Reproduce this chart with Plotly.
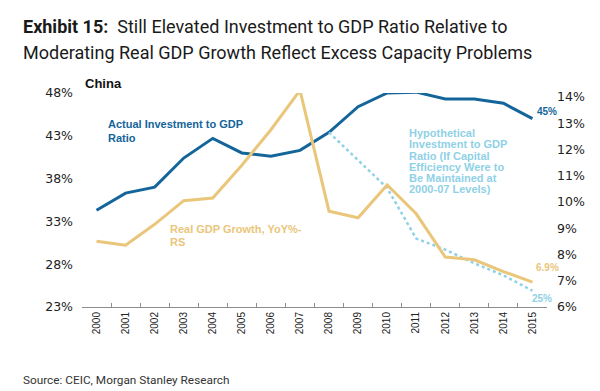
import plotly.graph_objects as go

years = [str(y) for y in range(2000, 2016)]
invest_actual = [34.3, 36.3, 37.0, 40.4, 42.7, 41.0, 40.6, 41.3, 43.4, 46.4, 48.0, 48.1, 47.3, 47.3, 46.8, 45.0]
gdp_growth = [8.5, 8.35, 9.15, 10.05, 10.15, 11.4, 12.75, 14.25, 9.65, 9.4, 10.65, 9.55, 7.9, 7.8, 7.35, 6.95]
hypo_years = [str(y) for y in range(2008, 2016)]
invest_hypo = [43.4, 40.1, 36.9, 31.0, 29.7, 28.1, 26.7, 24.9]

left_ticks = [23, 28, 33, 38, 43, 48]
right_ticks = [6, 7, 8, 9, 10, 11, 12, 13, 14]

BLUE = "#13659a"
GOLD = "#eac67a"
LBLUE = "#8fd1e6"
FONT = "Liberation Sans, Arial, sans-serif"

# page has an 8px body margin: work in reference pixels and shift by OFF
OFF = 8
W, H = 592, 383
PL, PR, PT, PB = 82, 547, 93, 307   # plot box in reference pixels
L = PL - OFF
T = PT - OFF
R = W - (PR - OFF)
B = H - (PB - OFF)
pw, ph = PR - PL, PB - PT

fig = go.Figure()
fig.add_trace(go.Scatter(x=years, y=invest_actual, mode="lines",
                         line=dict(color=BLUE, width=3), yaxis="y", showlegend=False))
fig.add_trace(go.Scatter(x=years, y=gdp_growth, mode="lines",
                         line=dict(color=GOLD, width=3), yaxis="y2", showlegend=False))
fig.add_trace(go.Scatter(x=hypo_years, y=invest_hypo, mode="lines",
                         line=dict(color=LBLUE, width=2.5, dash="dot"), yaxis="y", showlegend=False))


def px(x):
    return (x - PL) / pw


def py(y):
    return (PB - y) / ph


def text(x, y, s, color, size, bold=False, xanchor="left", family=FONT):
    fig.add_annotation(x=px(x), y=py(y), xref="paper", yref="paper",
                       text=("<b>%s</b>" % s) if bold else s,
                       showarrow=False, xanchor=xanchor, yanchor="middle",
                       font=dict(color=color, size=size, family=family))


text(83, 83, "China", "#111111", 13, bold=True)
text(106, 124, "Actual Investment to GDP", BLUE, 11, bold=True)
text(106, 137.5, "Ratio", BLUE, 11, bold=True)
text(168, 229, "Real GDP Growth, YoY%-", GOLD, 11, bold=True)
text(168, 242, "RS", GOLD, 11, bold=True)
hypo_lines = ["Hypothetical", "Investment to GDP", "Ratio (If Capital",
              "Efficiency Were to", "Be Maintained at", "2000-07 Levels)"]
for i, s in enumerate(hypo_lines):
    text(407, 133.3 + i * 11.15, s, LBLUE, 11, bold=True)

# end labels, anchored to the last data points
last = len(years) - 1
fig.add_annotation(x=last, y=invest_actual[-1], xref="x", yref="y", text="<b>45%</b>",
                   showarrow=False, xanchor="center", xshift=15, yshift=7,
                   font=dict(color=BLUE, size=10, family=FONT))
fig.add_annotation(x=last, y=gdp_growth[-1], xref="x", yref="y2", text="<b>6.9%</b>",
                   showarrow=False, xanchor="center", xshift=15, yshift=15,
                   font=dict(color=GOLD, size=10, family=FONT))
fig.add_annotation(x=last, y=invest_hypo[-1], xref="x", yref="y", text="<b>25%</b>",
                   showarrow=False, xanchor="center", xshift=10, yshift=-8,
                   font=dict(color=LBLUE, size=10, family=FONT))

# title and source
text(21, 26, "<b>Exhibit 15:</b>  Still Elevated Investment to GDP Ratio Relative to",
     "#1a1a1a", 18, family="Roboto")
text(21, 53, "Moderating Real GDP Growth Reflect Excess Capacity Problems",
     "#1a1a1a", 18, family="Roboto")
text(21, 380, "Source: CEIC, Morgan Stanley Research", "#333333", 11.8, family="Roboto")

fig.update_layout(
    width=W, height=H,
    margin=dict(l=L, r=R, t=T, b=B, autoexpand=False),
    paper_bgcolor="white", plot_bgcolor="white",
    xaxis=dict(type="category", categoryorder="array", categoryarray=years,
               range=[-0.5, 15.5], showgrid=False, zeroline=False,
               showline=True, linecolor="#8c8c8c", linewidth=1,
               ticks="inside", ticklen=4, tickcolor="#8c8c8c", tickson="boundaries",
               tickangle=-90, tickfont=dict(family=FONT, size=10, color="#222222")),
    yaxis=dict(range=[23, 48], tickvals=left_ticks, ticktext=["%d%%" % v for v in left_ticks],
               showgrid=False, zeroline=False, showline=False, ticks="", ticklabelstandoff=8,
               tickfont=dict(family="DejaVu Sans", size=12.5, color="#222222")),
    yaxis2=dict(range=[6, 14.15], tickvals=right_ticks, ticktext=["%d%%" % v for v in right_ticks],
                overlaying="y", side="right", showgrid=False, zeroline=False, showline=False, ticks="",
                ticklabelstandoff=9,
                tickfont=dict(family="DejaVu Sans", size=12.5, color="#222222")),
)

fig.write_html("out.html")
